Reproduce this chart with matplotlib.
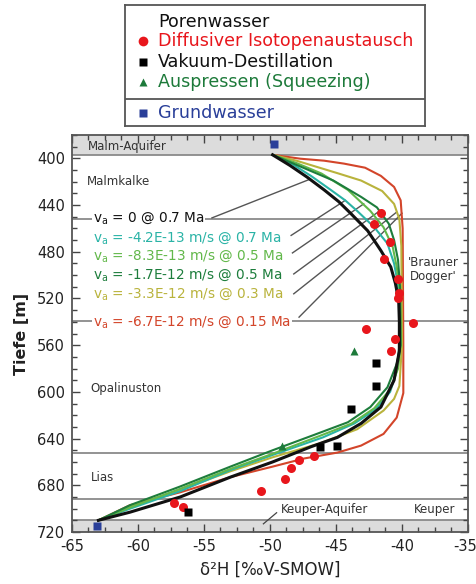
import matplotlib
matplotlib.use("Agg")
import matplotlib.pyplot as plt
import matplotlib.transforms as mtransforms
from matplotlib.ticker import MultipleLocator

plt.rcParams['font.family'] = ['DejaVu Sans']
plt.rcParams['mathtext.default'] = 'regular'
plt.rcParams['axes.unicode_minus'] = False

# ---------------- data ----------------
# model profiles (delta2H [permil], depth [m])
black_x = [-49.8, -48.5, -47.2, -45.9, -44.8, -43.9, -42.6, -41.6, -40.85, -40.5, -40.25, -40.2, -40.2,
           -40.6, -41.6, -43.1, -44.9, -46.9, -49.8, -53.0, -56.8, -60.6, -63.0]
black_d = [397, 406, 416, 427, 437, 447, 462, 479, 493, 507, 522, 540, 565,
           590, 613, 627, 639, 647, 660, 673, 690, 703, 710]

cyan_x = [-49.8, -48.3, -46.9, -45.4, -44.3, -43.4, -42.1, -41.1, -40.6, -40.35, -40.2, -40.2,
          -40.4, -40.9, -42.0, -43.6, -46.0, -49.8, -53.0, -56.8, -60.6, -63.0]
cyan_d = [397, 405, 415, 427, 436, 445, 459, 473, 490, 505, 525, 560,
          582, 600, 615, 627, 639, 654, 667, 685, 700, 710]

lgreen_x = [-49.8, -48.0, -46.1, -44.1, -42.4, -41.4, -40.7, -40.4, -40.15, -40.1,
            -40.3, -40.9, -42.1, -43.8, -46.3, -49.8, -53.0, -56.8, -60.6, -63.0]
lgreen_d = [397, 404, 413, 427, 445, 459, 476, 493, 515, 560,
            580, 598, 614, 627, 638, 653, 666, 683, 699, 710]

dgreen_x = [-49.8, -47.7, -45.2, -43.1, -41.9, -41.0, -40.6, -40.3, -40.15, -40.1,
            -40.4, -41.1, -42.4, -44.1, -46.7, -49.8, -53.0, -56.8, -60.6, -63.0]
dgreen_d = [397, 407, 419, 433, 442, 456, 470, 487, 510, 560,
            576, 596, 613, 626, 637, 650, 664, 681, 697, 710]

olive_x = [-49.8, -48.0, -46.4, -44.8, -43.1, -41.5, -40.6, -40.2, -40.05, -40.0,
           -40.2, -40.6, -41.4, -43.4, -46.2, -49.8, -53.0, -56.8, -60.6, -63.0]
olive_d = [397, 402, 407.5, 413, 419, 428, 439, 452, 475, 560,
           595, 606, 616, 632, 644, 656, 668, 684, 698, 710]

red_x = [-49.8, -47.7, -45.9, -44.4, -42.8, -41.6, -40.6, -40.1, -39.95, -39.9, -39.9,
         -40.4, -41.4, -43.1, -44.9, -47.4, -49.8, -53.0, -56.8, -60.6, -63.0]
red_d = [397, 400.3, 402, 404.5, 408, 415, 424.5, 436, 460, 560, 601,
         622, 636, 646, 652, 657, 664, 673, 686, 697, 710]

# measurements
diff_x = [-41.6, -42.1, -40.9, -41.4, -40.3, -40.2, -40.3, -39.2, -42.7, -40.5, -40.8,
          -46.7, -47.8, -48.4, -48.9, -50.7, -57.3, -56.6]
diff_d = [447, 456, 472, 486, 503, 515, 520, 541, 546, 555, 565,
          655, 658, 665, 675, 685, 695, 699]

vak_x = [-42.0, -42.0, -43.9, -46.2, -44.9, -56.2]
vak_d = [575, 595, 615, 647, 646, 703]

squeeze_x = [-43.6, -49.1]
squeeze_d = [565, 646]

grund_x = [-49.7, -63.1]
grund_d = [388, 715]

# annotation labels
curve_labels = ['v$_a$ = 0 @ 0.7 Ma',
                'v$_a$ = -4.2E-13 m/s @ 0.7 Ma',
                'v$_a$ = -8.3E-13 m/s @ 0.5 Ma',
                'v$_a$ = -1.7E-12 m/s @ 0.5 Ma',
                'v$_a$ = -3.3E-12 m/s @ 0.3 Ma',
                'v$_a$ = -6.7E-12 m/s @ 0.15 Ma']
label_depths = [451, 468, 484, 500, 516, 540]
leader_start = [(-54.4, 451), (-48.4, 466), (-48.3, 481), (-48.2, 499), (-48.2, 516), (-47.8, 536)]
leader_end = [(-47.0, 418), (-44.3, 436), (-42.9, 439), (-41.7, 445), (-40.4, 446), (-40.0, 447)]

boundaries = [397, 452, 539, 652, 692, 710]

# ---------------- styling ----------------
C_BLACK = '#111111'
C_CYAN = '#2ab3a6'
C_LGREEN = '#62b84a'
C_DGREEN = '#1d7d3c'
C_OLIVE = '#b9b33c'
C_RED = '#d3452a'
curve_colors = [C_BLACK, C_CYAN, C_LGREEN, C_DGREEN, C_OLIVE, C_RED]

fig = plt.figure(figsize=(4.77, 5.84), dpi=100)
W, H = 477, 584
ax = fig.add_axes([72 / W, 1 - 532 / H, (468 - 72) / W, (532 - 135) / H])

ax.set_xlim(-65, -35)
ax.set_ylim(720, 380)

# grey aquifer bands
ax.axhspan(380, 397, color='#dcdcdc', zorder=0, lw=0)
ax.axhspan(710, 720, color='#dcdcdc', zorder=0, lw=0)
for b in boundaries:
    ax.axhline(b, color='#8a8a8a', lw=1.3, zorder=1)

# curves
curves = [(black_x, black_d), (cyan_x, cyan_d), (lgreen_x, lgreen_d),
          (dgreen_x, dgreen_d), (olive_x, olive_d), (red_x, red_d)]
draw_order = [5, 4, 1, 2, 3, 0]
for i in draw_order:
    xs, ds = curves[i]
    lw = 2.2 if i == 0 else 1.5
    ax.plot(xs, ds, color=curve_colors[i], lw=lw, zorder=3 + (1 if i == 0 else 0))

# leader lines
for (x1, d1), (x2, d2) in zip(leader_start, leader_end):
    ax.plot([x1, x2], [d1, d2], color='#555555', lw=1.0, zorder=2)

# curve labels
for lab, d, c in zip(curve_labels, label_depths, curve_colors):
    ax.text(-63.4, d, lab, color=c, fontsize=9.8, va='center', ha='left', zorder=5,
            bbox=dict(facecolor='white', edgecolor='none', pad=0.5))

# measurements
ax.plot(diff_x, diff_d, 'o', color='#e8161c', ms=6.5, mec='none', zorder=6)
ax.plot(vak_x, vak_d, 's', color='black', ms=5.5, mec='none', zorder=6)
ax.plot(squeeze_x, squeeze_d, '^', color='#1d7a3a', ms=6, mec='none', zorder=6)
ax.plot(grund_x, grund_d, 's', color='#2a3f99', ms=5.5, mec='none', zorder=6, clip_on=False)

# layer labels
lab_kw = dict(fontsize=8.5, color='#333333', zorder=5)
ax.text(-63.8, 390, 'Malm-Aquifer', va='center', ha='left', **lab_kw)
ax.text(-63.9, 420, 'Malmkalke', va='center', ha='left', **lab_kw)
ax.text(-63.6, 597, 'Opalinuston', va='center', ha='left', **lab_kw)
ax.text(-63.6, 673, 'Lias', va='center', ha='left', **lab_kw)
ax.text(-49.2, 701, 'Keuper-Aquifer', va='center', ha='left', **lab_kw)
ax.text(-39.1, 701, 'Keuper', va='center', ha='left', **lab_kw)
ax.text(-37.6, 495, "'Brauner\nDogger'", va='center', ha='center', linespacing=1.1, **lab_kw)
ax.plot([-50.5, -49.5], [713, 703.5], color='#444444', lw=0.9, zorder=5)

# axes style
ax.xaxis.set_major_locator(MultipleLocator(5))
ax.xaxis.set_minor_locator(MultipleLocator(1.25))
ax.yaxis.set_major_locator(MultipleLocator(40))
ax.yaxis.set_minor_locator(MultipleLocator(10))
ax.tick_params(which='both', direction='in', top=True, right=True, colors='#444444',
               labelcolor='#222222', labelsize=10.5, width=1.0)
ax.tick_params(which='major', length=6, pad=5)
ax.tick_params(which='minor', length=3.5)
for sp in ax.spines.values():
    sp.set_color('#555555')
    sp.set_linewidth(1.3)

ax.set_xlabel('δ²H [‰V-SMOW]', fontsize=12, color='#222222', labelpad=5)
ax.set_ylabel('Tiefe [m]', fontsize=11.5, fontweight='bold', color='#222222', labelpad=6)

# keep the right-most x tick label inside the figure
fig.canvas.draw()
for t in ax.get_xticklabels():
    if t.get_text() == '-35':
        t.set_transform(t.get_transform() + mtransforms.ScaledTranslation(-3 / 100, 0, fig.dpi_scale_trans))

# legend box (manual)
lax = fig.add_axes([125 / W, 1 - 126 / H, 300 / W, 121 / H])
lax.set_xlim(0, 300)
lax.set_ylim(121, 0)
lax.set_xticks([])
lax.set_yticks([])
for sp in lax.spines.values():
    sp.set_color('#555555')
    sp.set_linewidth(1.3)
lax.axhline(94, color='#555555', lw=1.3)
leg_fs = 12.6
lax.text(33, 16.7, 'Porenwasser', fontsize=leg_fs, color='#111111', va='center')
lax.plot([18], [35.7], 'o', color='#e8161c', ms=7, mec='none')
lax.text(33, 35.7, 'Diffusiver Isotopenaustausch', fontsize=leg_fs, color='#e8161c', va='center')
lax.plot([18], [56.7], 's', color='black', ms=5.5, mec='none')
lax.text(33, 56.7, 'Vakuum-Destillation', fontsize=leg_fs, color='#111111', va='center')
lax.plot([18], [76.7], '^', color='#1d7a3a', ms=6, mec='none')
lax.text(33, 76.7, 'Auspressen (Squeezing)', fontsize=leg_fs, color='#1d7a3a', va='center')
lax.plot([18], [108.3], 's', color='#2a3f99', ms=5.5, mec='none')
lax.text(33, 108.3, 'Grundwasser', fontsize=leg_fs, color='#2a3f99', va='center')

fig.savefig('out.png', dpi=100)
